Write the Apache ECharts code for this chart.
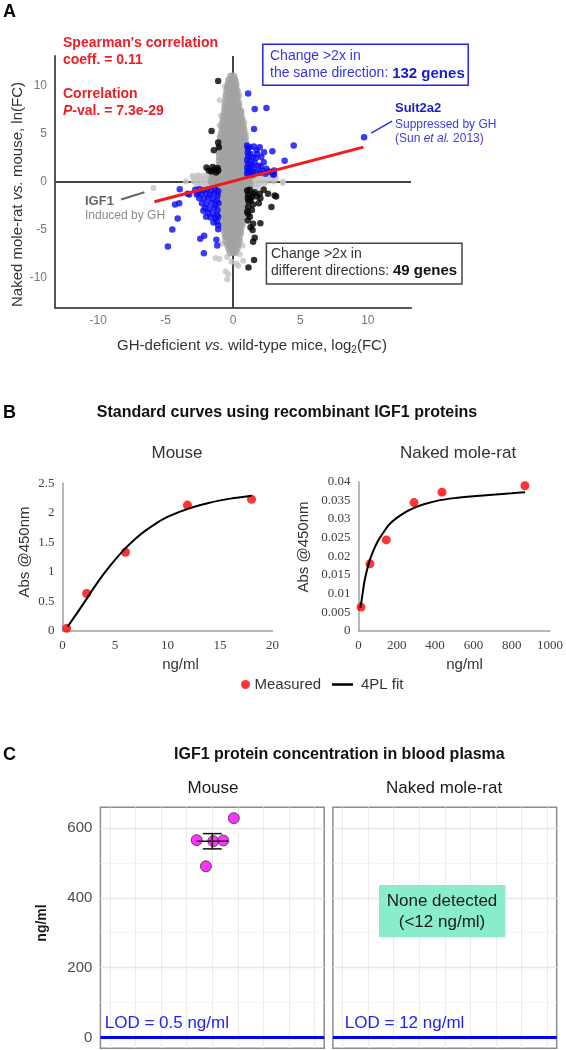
<!DOCTYPE html>
<html><head><meta charset="utf-8">
<script src="https://cdn.jsdelivr.net/npm/echarts@6/dist/echarts.min.js"></script>
<style>html,body{margin:0;padding:0;background:#fff}#c{width:566px;height:1050px}</style>
</head><body><div id="c"></div>
<script>
// ---------- Panel A data ----------
const aTicks = [-10, -5, 0, 5, 10];
const grayRows = [
  [11.0, [-0.15, 0.05]],
  [10.6, [-0.3, -0.1, 0.1]],
  [10.2, [-0.35, -0.15, 0.05, 0.2]],
  [9.8, [-0.4, -0.2, 0.0, 0.2]],
  [9.4, [-0.45, -0.25, -0.05, 0.15, 0.3]],
  [9.0, [-0.5, -0.3, -0.1, 0.1, 0.3]],
  [8.6, [-0.5, -0.3, -0.1, 0.1, 0.3]],
  [8.2, [-0.55, -0.35, -0.15, 0.05, 0.25, 0.4]],
  [7.8, [-0.6, -0.4, -0.2, 0.0, 0.2, 0.4]],
  [7.4, [-0.6, -0.4, -0.2, 0.0, 0.2, 0.4, 0.55]],
  [7.0, [-0.65, -0.45, -0.25, -0.05, 0.15, 0.35, 0.55]],
  [6.6, [-0.7, -0.5, -0.3, -0.1, 0.1, 0.3, 0.5, 0.65]],
  [6.2, [-0.75, -0.55, -0.35, -0.15, 0.05, 0.25, 0.45, 0.65]],
  [5.8, [-0.8, -0.6, -0.4, -0.2, 0.0, 0.2, 0.4, 0.6, 0.75]],
  [5.4, [-0.8, -0.6, -0.4, -0.2, 0.0, 0.2, 0.4, 0.6, 0.8]],
  [5.0, [-0.85, -0.65, -0.45, -0.25, -0.05, 0.15, 0.35, 0.55, 0.8]],
  [4.6, [-0.9, -0.7, -0.5, -0.3, -0.1, 0.1, 0.3, 0.5, 0.7, 0.9]],
  [4.2, [-0.9, -0.7, -0.5, -0.3, -0.1, 0.1, 0.3, 0.5, 0.7, 0.9]],
  [3.8, [-0.95, -0.75, -0.55, -0.35, -0.15, 0.05, 0.25, 0.45, 0.65, 0.85]],
  [3.4, [-0.95, -0.75, -0.55, -0.35, -0.15, 0.05, 0.25, 0.45, 0.65, 0.85, 1.0]],
  [3.0, [-1.0, -0.8, -0.6, -0.4, -0.2, 0.0, 0.2, 0.4, 0.6, 0.8, 0.95]],
  [2.6, [-1.0, -0.8, -0.6, -0.4, -0.2, 0.0, 0.2, 0.4, 0.6, 0.8, 1.0]],
  [2.2, [-1.0, -0.8, -0.6, -0.4, -0.2, 0.0, 0.2, 0.4, 0.6, 0.8, 1.0]],
  [1.8, [-1.0, -0.8, -0.6, -0.4, -0.2, 0.0, 0.2, 0.4, 0.6, 0.8, 1.0]],
  [1.4, [-1.0, -0.8, -0.6, -0.4, -0.2, 0.0, 0.2, 0.4, 0.6, 0.8, 1.0]],
  [1.0, [-1.0, -0.8, -0.6, -0.4, -0.2, 0.0, 0.2, 0.4, 0.6, 0.8, 1.0]],
  [0.65, [-1.5, -1.25, -1.0, -0.75, -0.5, -0.25, 0.0, 0.25, 0.5, 0.75, 1.0, 1.3]],
  [0.35, [-1.55, -1.3, -1.05, -0.8, -0.55, -0.3, -0.05, 0.2, 0.45, 0.7, 0.95, 1.2]],
  [0.05, [-1.6, -1.35, -1.1, -0.85, -0.6, -0.35, -0.1, 0.15, 0.4, 0.65, 0.9, 1.15]],
  [-0.25, [-1.5, -1.25, -1.0, -0.75, -0.5, -0.25, 0.0, 0.25, 0.5, 0.75, 1.0, 1.25]],
  [-0.55, [-1.4, -1.15, -0.9, -0.65, -0.4, -0.15, 0.1, 0.35, 0.6, 0.85, 1.1]],
  [-0.9, [-1.0, -0.8, -0.6, -0.4, -0.2, 0.0, 0.2, 0.4, 0.6, 0.8, 1.0]],
  [-1.3, [-1.0, -0.8, -0.6, -0.4, -0.2, 0.0, 0.2, 0.4, 0.6, 0.8, 1.0]],
  [-1.7, [-1.0, -0.8, -0.6, -0.4, -0.2, 0.0, 0.2, 0.4, 0.6, 0.8, 0.95]],
  [-2.1, [-0.95, -0.75, -0.55, -0.35, -0.15, 0.05, 0.25, 0.45, 0.65, 0.85]],
  [-2.5, [-0.95, -0.75, -0.55, -0.35, -0.15, 0.05, 0.25, 0.45, 0.65, 0.85]],
  [-2.9, [-0.9, -0.7, -0.5, -0.3, -0.1, 0.1, 0.3, 0.5, 0.7, 0.85]],
  [-3.3, [-0.85, -0.65, -0.45, -0.25, -0.05, 0.15, 0.35, 0.55, 0.75]],
  [-3.7, [-0.8, -0.6, -0.4, -0.2, 0.0, 0.2, 0.4, 0.6, 0.75]],
  [-4.1, [-0.75, -0.55, -0.35, -0.15, 0.05, 0.25, 0.45, 0.65]],
  [-4.5, [-0.7, -0.5, -0.3, -0.1, 0.1, 0.3, 0.5, 0.65]],
  [-4.9, [-0.65, -0.45, -0.25, -0.05, 0.15, 0.35, 0.55]],
  [-5.3, [-0.6, -0.4, -0.2, 0.0, 0.2, 0.4, 0.55]],
  [-5.7, [-0.55, -0.35, -0.15, 0.05, 0.25, 0.45]],
  [-6.1, [-0.5, -0.3, -0.1, 0.1, 0.3, 0.45]],
  [-6.5, [-0.4, -0.2, 0.0, 0.2, 0.35]],
  [-6.9, [-0.3, -0.1, 0.1, 0.3]],
  [-7.3, [-0.2, 0.0, 0.15]]
];
const grayLightRows = [
  [0.65, [-3.0, -2.6, -2.3, -2.0, -1.75, 1.6, 2.0, 2.5, 3.0]],
  [0.35, [-2.8, -2.4, -2.1, -1.8, 1.5, 1.8, 2.2, 2.7, 3.2]],
  [0.05, [-3.5, -2.9, -2.5, -2.2, -1.9, 1.45, 1.75, 2.1, 2.5, 3.0, 3.7]],
  [-0.25, [-2.7, -2.35, -2.05, -1.75, 1.55, 1.9, 2.3]],
  [-0.55, [-2.3, -1.95, -1.65, 1.4, 1.8]]
];
const grayOutliers = [[-0.98,8.5],[0.2,10.6],[0.5,9.0],[-0.6,9.9],[0.65,7.2],[-0.9,6.9],[-1.0,5.9],[0.85,6.2],[0.95,5.0],[-1.0,4.7],
  [-2.95,0.5],[-2.6,0.68],[2.97,0.5],[3.7,-0.1],[-1.0,-8.0],[-0.43,-7.8],[0.26,-7.1],[0.5,-7.5],[0.75,-8.2],[0.26,-8.5],
  [-0.36,-9.6],[-0.43,-10.1],[-0.55,-9.3],[0.38,-8.7],[-1.3,-7.9],[-0.1,-8.3],[0.7,-6.6],[-0.8,-6.4]];
const igf1Point = [[-5.9, -0.62]];
const bluePoints = [
  [1.12,9.2],[1.61,7.6],[2.48,7.7],[1.56,5.5],[4.5,3.8],[3.83,2.2],[2.92,3.2],[3.05,1.2],[3.05,0.8],[2.85,1.02],[2.97,0.78],[2.48,1.37],[9.72,4.64],
  [1.05,3.8],[1.1,3.5],[1.25,3.6],[1.55,3.7],[1.98,3.6],[1.74,3.3],[1.1,3.1],[1.3,2.9],[1.12,2.7],[1.45,2.6],[2.1,2.6],[1.7,2.5],[1.05,2.3],
  [1.3,2.2],[2.28,2.06],[1.6,2.0],[1.1,1.9],[1.4,1.8],[1.86,1.7],[2.05,1.6],[1.24,1.54],[1.05,1.45],[1.55,1.35],[2.2,1.2],[1.1,1.15],
  [1.35,1.1],[1.75,1.05],[2.0,0.95],[1.05,0.85],[1.49,0.78],[1.25,0.9],[2.4,0.85],[2.65,1.1],[1.8,2.9],[2.3,3.1],
  [-3.95,-0.75],[-3.36,-1.23],[-2.6,-1.1],[-4.3,-2.35],[-3.99,-2.2],[-4.1,-3.8],[-4.5,-4.95],[-4.83,-6.7],[-2.43,-5.9],[-2.14,-5.6],
  [-2.16,-7.4],[-1.23,-6.0],[-1.17,-6.6],[-1.1,-4.5],[-1.1,-4.9],[-2.2,-3.0],[-3.25,-1.3],
  [-2.8,-0.8],[-2.5,-0.75],[-2.2,-0.85],[-1.9,-0.8],[-1.6,-0.9],[-1.3,-0.8],[-1.1,-0.95],[-2.7,-1.3],[-2.35,-1.25],[-2.0,-1.2],
  [-1.7,-1.35],[-1.4,-1.2],[-1.15,-1.4],[-2.5,-1.7],[-2.15,-1.75],[-1.85,-1.65],[-1.5,-1.8],[-1.2,-1.9],[-2.3,-2.2],[-1.95,-2.3],
  [-1.6,-2.15],[-1.3,-2.4],[-1.08,-2.2],[-2.1,-2.7],[-1.75,-2.8],[-1.4,-2.7],[-1.15,-2.9],[-1.85,-3.2],[-1.5,-3.3],[-1.2,-3.4],
  [-1.65,-3.7],[-1.3,-3.8],[-1.1,-3.6],[-1.45,-4.2],[-1.2,-4.1],[-2.0,-3.6]
];
const blackPoints = [
  [-1.1,10.5],[-1.59,5.3],[-1.1,4.1],[-1.05,3.6],[-1.42,3.3],[-1.96,1.5],[-1.15,1.45],[-1.4,1.3],[-1.6,1.1],[-1.25,1.0],[-1.8,1.2],[-1.1,1.2],[-1.5,1.55],
  [1.05,-0.89],[1.24,-0.8],[1.12,-1.3],[1.37,-1.58],[1.61,-1.06],[1.98,-1.23],[2.28,-0.81],[2.6,-1.23],[3.09,-1.4],[3.2,-1.5],[2.85,-2.6],
  [1.91,-2.2],[1.49,-2.34],[1.12,-2.6],[1.05,-3.1],[1.12,-3.3],[1.49,-4.35],[2.03,-4.3],[1.61,-5.8],[1.49,-6.2],[1.56,-8.1],[1.15,-8.9],
  [1.3,-1.9],[1.15,-2.0],[1.4,-2.9],[1.25,-3.6],[1.1,-1.7],[1.5,-1.25],[1.75,-1.5],[2.03,-1.7],[1.3,-4.7],[1.45,-5.0],[1.1,-4.0]
];
const fitX = [-5.82, 9.67];
const fitY = [-2.06, 3.63];
const sultArrow = [[11.8, 6.33], [10.25, 5.08]];
const igfArrow = [[-8.3, -1.82], [-6.57, -1.06]];

// ---------- Panel B data ----------
const mouseConc = [0.4, 2.3, 6.0, 11.9, 18.0];
const mouseAbs = [0.04, 0.63, 1.33, 2.13, 2.23];
const mouseFitX = [0.5, 1, 2, 3, 4, 5, 6, 7, 8, 9, 10, 12, 14, 16, 18];
const mouseFitY = [0.07, 0.2, 0.46, 0.73, 0.98, 1.2, 1.4, 1.57, 1.71, 1.83, 1.93, 2.07, 2.17, 2.24, 2.29];
const nmrConc = [13, 60, 145, 290, 436, 869];
const nmrAbs = [0.0064, 0.018, 0.0244, 0.0344, 0.0372, 0.0389];
const nmrFitX = [10, 20, 30, 45, 60, 80, 100, 130, 160, 200, 250, 300, 350, 420, 500, 600, 700, 800, 870];
const nmrFitY = [0.0062, 0.0095, 0.013, 0.0165, 0.0192, 0.0218, 0.024, 0.0264, 0.0285, 0.0303, 0.032, 0.0332, 0.0341, 0.035, 0.0356, 0.0361, 0.0365, 0.0369, 0.0372];

// ---------- Panel C data ----------
const cMouseX = [4.84, 3.39, 4.04, 4.43, 3.75];
const cMouseY = [628, 565, 562, 564, 490];
const cMouseCenter = 4.0;
const cYTicks = [0, 200, 400, 600];
const cGridX = [0, 1, 2, 3, 4, 5, 6, 7, 8];
const cGridMajorY = [0, 200, 400, 600];
const cGridMinorY = [100, 300, 500];
const lodLineY = 0;
const lodLabels = ['LOD = 0.5 ng/ml', 'LOD = 12 ng/ml'];

// ---------- build ----------
const zip = (a, b) => a.map((v, i) => [v, b[i]]);
const grayData = [];
grayRows.forEach(([y, xs]) => xs.forEach(x => grayData.push([x, y])));
const grayLight = [];
grayLightRows.forEach(([y, xs]) => xs.forEach(x => grayLight.push([x, y])));
grayOutliers.forEach(p => grayLight.push(p));
igf1Point.forEach(p => grayLight.push(p));

const n = cMouseY.length;
const mean = cMouseY.reduce((a, b) => a + b, 0) / n;
const sd = Math.sqrt(cMouseY.reduce((a, b) => a + (b - mean) * (b - mean), 0) / (n - 1));
const se = sd / Math.sqrt(n);

const AR = 'Arial, "Liberation Sans", sans-serif';
const SERIF = '"Liberation Serif", "DejaVu Serif", serif';
function txt(x, y, text, font, fill, align, extra) {
  align = align || 'left';
  return Object.assign({ type: 'text', x: x, y: y, z: 100,
    style: { text: text, font: font, fill: fill, align: align, verticalAlign: 'middle', textAlign: align, textVerticalAlign: 'middle' } }, extra || {});
}
function rtxt(x, y, text, rich, align, extra) {
  align = align || 'left';
  return Object.assign({ type: 'text', x: x, y: y, z: 100,
    style: { text: text, rich: rich, align: align, verticalAlign: 'middle', textAlign: align, textVerticalAlign: 'middle' } }, extra || {});
}
function tok(size, color, weight, style, extra) {
  return Object.assign({ fontSize: size, fontFamily: AR, fontWeight: weight || 'normal', fontStyle: style || 'normal', fill: color, color: color,
    font: (style || 'normal') + ' ' + (weight || 'normal') + ' ' + size + 'px ' + AR }, extra || {});
}
const RED = '#ec1f26', BLUE = '#2424e8';

const graphic = [
  txt(3, 12, 'A', 'bold 18px ' + AR, '#000'),
  txt(63, 43, "Spearman's correlation", 'bold 14px ' + AR, RED),
  txt(63, 60, 'coeff. = 0.11', 'bold 14px ' + AR, RED),
  txt(63, 94, 'Correlation', 'bold 14px ' + AR, RED),
  rtxt(63, 111, '{i|P}{b|-val. = 7.3e-29}', { i: tok(14, RED, 'bold', 'italic'), b: tok(14, RED, 'bold') }),
  { type: 'rect', z: 100, shape: { x: 262.8, y: 44.3, width: 205.4, height: 41 }, style: { fill: 'none', stroke: BLUE, lineWidth: 1.5 } },
  txt(270, 56, 'Change >2x in', '14px ' + AR, '#3535ea'),
  rtxt(270, 73.5, '{r|the same direction: }{b|132 genes}', { r: tok(14, '#3535ea'), b: tok(15, '#1a1ad0', 'bold') }),
  { type: 'rect', z: 100, shape: { x: 266.4, y: 243.3, width: 195.6, height: 40.7 }, style: { fill: 'none', stroke: '#444', lineWidth: 1.5 } },
  txt(271, 254, 'Change >2x in', '14px ' + AR, '#333'),
  rtxt(271, 271, '{r|different directions: }{b|49 genes}', { r: tok(14, '#333'), b: tok(15, '#111', 'bold') }),
  txt(395, 108, 'Sult2a2', 'bold 13px ' + AR, '#1a1ad8'),
  txt(395, 125, 'Suppressed by GH', '12px ' + AR, '#3a3af0'),
  rtxt(395, 139, '{r|(Sun }{i|et al.}{r| 2013)}', { r: tok(12, '#3a3af0'), i: tok(12, '#3a3af0', 'normal', 'italic') }),
  txt(85, 201, 'IGF1', 'bold 13px ' + AR, '#666'),
  txt(85, 216, 'Induced by GH', '12px ' + AR, '#8a8a8a'),
  rtxt(18, 194.5, '{r|Naked mole-rat }{i|vs.}{r| mouse, ln(FC)}', { r: tok(15, '#333'), i: tok(15, '#333', 'normal', 'italic') }, 'center', { rotation: Math.PI / 2 }),
  rtxt(252, 346, '{r|GH-deficient }{i|vs.}{r| wild-type mice, log}{s|2}{r|(FC)}',
    { r: tok(15, '#333', 'normal', 'normal', { lineHeight: 18 }), i: tok(15, '#333', 'normal', 'italic', { lineHeight: 18 }), s: tok(10, '#333', 'normal', 'normal', { lineHeight: 18, verticalAlign: 'bottom' }) }, 'center'),
  // Panel B
  txt(3, 413, 'B', 'bold 18px ' + AR, '#000'),
  txt(287, 413, 'Standard curves using recombinant IGF1 proteins', 'bold 16px ' + AR, '#111', 'center'),
  txt(177, 453, 'Mouse', '17px ' + AR, '#333', 'center'),
  txt(458, 453, 'Naked mole-rat', '17px ' + AR, '#333', 'center'),
  txt(25, 552, 'Abs @450nm', '15px ' + AR, '#333', 'center', { rotation: Math.PI / 2 }),
  txt(304, 547, 'Abs @450nm', '15px ' + AR, '#333', 'center', { rotation: Math.PI / 2 }),
  txt(180.5, 665, 'ng/ml', '15px ' + AR, '#333', 'center'),
  txt(464.6, 665, 'ng/ml', '15px ' + AR, '#333', 'center'),
  // Panel C
  txt(3, 755, 'C', 'bold 18px ' + AR, '#000'),
  txt(339.4, 755, 'IGF1 protein concentration in blood plasma', 'bold 16px ' + AR, '#111', 'center'),
  txt(213, 788, 'Mouse', '17px ' + AR, '#1a1a1a', 'center'),
  txt(444, 788, 'Naked mole-rat', '17px ' + AR, '#1a1a1a', 'center'),
  txt(42.6, 923, 'ng/ml', 'bold 14px ' + AR, '#1a1a1a', 'center', { rotation: Math.PI / 2 }),
  txt(104.7, 1023, lodLabels[0], '17px ' + AR, '#2323f5'),
  txt(344.8, 1023, lodLabels[1], '17px ' + AR, '#2323f5'),
  { type: 'rect', z: 99, shape: { x: 379, y: 885, width: 126.4, height: 52.3 }, style: { fill: '#88edc8' } },
  txt(442, 901, 'None detected', '17px ' + AR, '#1a1a1a', 'center'),
  txt(442, 922, '(<12 ng/ml)', '17px ' + AR, '#1a1a1a', 'center')
];

const noLine = { show: false };
const bAxisLine = { show: true, onZero: false, lineStyle: { color: '#a0a0a0', width: 1.5 } };
const bLabel = { fontFamily: SERIF, fontSize: 13, color: '#404040', margin: 8, formatter: v => String(v) };

const option = {
  animation: false,
  backgroundColor: '#fff',
  textStyle: { fontFamily: AR },
  graphic: graphic,
  legend: [
    { data: [{ name: 'Measured', icon: 'circle' }], left: 236, top: 672, itemWidth: 10, itemHeight: 9, itemGap: 0,
      textStyle: { fontSize: 15, color: '#333', fontFamily: AR, padding: [0, 0, 0, -1] } },
    { data: [{ name: '4PL fit', icon: 'rect' }], left: 327, top: 672, itemWidth: 21, itemHeight: 2.5, itemGap: 0,
      textStyle: { fontSize: 15, color: '#333', fontFamily: AR, padding: [0, 0, 0, 3] } }
  ],
  grid: [
    { left: 55, top: 56, width: 356, height: 252 },
    { left: 62.5, top: 483.3, width: 210, height: 147.4 },
    { left: 358.5, top: 481.7, width: 192, height: 149.3 },
    { left: 100.4, top: 807.3, width: 223.8, height: 241, show: true, borderColor: '#8c8c8c', borderWidth: 1.5, backgroundColor: '#fff' },
    { left: 332.9, top: 807.3, width: 223.8, height: 241, show: true, borderColor: '#8c8c8c', borderWidth: 1.5, backgroundColor: '#fff' }
  ],
  xAxis: [
    { type: 'value', gridIndex: 0, min: -13.2, max: 13.2,
      axisLine: { show: true, onZero: false, lineStyle: { color: '#555', width: 2 } }, axisTick: noLine, splitLine: noLine,
      axisLabel: { customValues: aTicks, color: '#777', fontSize: 12, margin: 7, fontFamily: AR } },
    { type: 'value', gridIndex: 1, min: 0, max: 20, interval: 5, axisLine: bAxisLine, axisTick: noLine, splitLine: noLine, axisLabel: bLabel },
    { type: 'value', gridIndex: 2, min: 0, max: 1000, interval: 200, axisLine: bAxisLine, axisTick: noLine, splitLine: noLine, axisLabel: bLabel },
    { type: 'value', gridIndex: 3, min: -0.375, max: 8.375, show: false },
    { type: 'value', gridIndex: 4, min: -0.375, max: 8.375, show: false }
  ],
  yAxis: [
    { type: 'value', gridIndex: 0, min: -13.1, max: 13.1,
      axisLine: { show: true, onZero: false, lineStyle: { color: '#555', width: 2 } }, axisTick: noLine, splitLine: noLine,
      axisLabel: { customValues: aTicks, color: '#777', fontSize: 12, margin: 8, fontFamily: AR } },
    { type: 'value', gridIndex: 1, min: 0, max: 2.5, interval: 0.5, axisLine: bAxisLine, axisTick: noLine, splitLine: noLine, axisLabel: bLabel },
    { type: 'value', gridIndex: 2, min: 0, max: 0.04, interval: 0.005, axisLine: bAxisLine, axisTick: noLine, splitLine: noLine, axisLabel: bLabel },
    { type: 'value', gridIndex: 3, min: -31, max: 659, axisLine: noLine, splitLine: noLine,
      axisTick: { show: true, customValues: cYTicks, length: 4, lineStyle: { color: '#333', width: 1 } },
      axisLabel: { customValues: cYTicks, color: '#4d4d4d', fontSize: 15, margin: 8, fontFamily: AR } },
    { type: 'value', gridIndex: 4, min: -31, max: 659, axisLine: noLine, splitLine: noLine, axisTick: noLine, axisLabel: { show: false } }
  ],
  series: [
    { type: 'scatter', xAxisIndex: 0, yAxisIndex: 0, data: [], z: 1, silent: true,
      markLine: { silent: true, z: 1, symbol: ['none', 'none'], label: { show: false }, lineStyle: { color: '#444', width: 2, type: 'solid' },
        data: [{ yAxis: 0 }, { xAxis: 0 }] } },
    { type: 'scatter', xAxisIndex: 0, yAxisIndex: 0, data: grayLight, symbolSize: 6, z: 4, silent: true,
      itemStyle: { color: '#c4c4c4' } },
    { type: 'scatter', xAxisIndex: 0, yAxisIndex: 0, data: grayData, symbolSize: 7.5, z: 5, silent: true,
      itemStyle: { color: '#a2a2a2' } },
    { type: 'scatter', xAxisIndex: 0, yAxisIndex: 0, data: bluePoints, symbolSize: 6.5, z: 6, silent: true, itemStyle: { color: '#0a0af5' } },
    { type: 'scatter', xAxisIndex: 0, yAxisIndex: 0, data: blackPoints, symbolSize: 6.5, z: 6, silent: true, itemStyle: { color: '#000' } },
    { type: 'line', xAxisIndex: 0, yAxisIndex: 0, data: zip(fitX, fitY), symbol: 'none', z: 7, silent: true,
      lineStyle: { color: '#f21b1b', width: 3 } },
    { type: 'scatter', xAxisIndex: 0, yAxisIndex: 0, data: [], z: 8, silent: true,
      markLine: { silent: true, z: 8, symbol: ['none', 'arrow'], symbolSize: [0, 9], label: { show: false },
        data: [
          [{ coord: sultArrow[0], lineStyle: { color: '#2a2aee', width: 1.5, type: 'solid' } }, { coord: sultArrow[1] }],
          [{ coord: igfArrow[0], lineStyle: { color: '#666', width: 2, type: 'solid' } }, { coord: igfArrow[1] }]
        ] } },
    { name: 'Measured', type: 'scatter', xAxisIndex: 1, yAxisIndex: 1, data: zip(mouseConc, mouseAbs), symbolSize: 9, z: 5, itemStyle: { color: '#ff0000' } },
    { name: '4PL fit', type: 'line', xAxisIndex: 1, yAxisIndex: 1, data: zip(mouseFitX, mouseFitY), symbol: 'none', smooth: 0.3, z: 6,
      lineStyle: { color: '#000', width: 2 }, itemStyle: { color: '#000' } },
    { name: 'Measured', type: 'scatter', xAxisIndex: 2, yAxisIndex: 2, data: zip(nmrConc, nmrAbs), symbolSize: 9, z: 5, itemStyle: { color: '#ff0000' } },
    { name: '4PL fit', type: 'line', xAxisIndex: 2, yAxisIndex: 2, data: zip(nmrFitX, nmrFitY), symbol: 'none', smooth: 0.3, z: 6,
      lineStyle: { color: '#000', width: 2 }, itemStyle: { color: '#000' } },
    ...[3, 4].map(gi => ({ type: 'scatter', xAxisIndex: gi, yAxisIndex: gi, data: [], z: 1, silent: true,
      markLine: { silent: true, z: 1, symbol: ['none', 'none'], label: { show: false },
        data: [].concat(
          cGridX.map(v => ({ xAxis: v, lineStyle: { color: '#ebebeb', width: 1, type: 'solid' } })),
          cGridMinorY.map(v => ({ yAxis: v, lineStyle: { color: '#f2f2f2', width: 0.8, type: 'solid' } })),
          cGridMajorY.map(v => ({ yAxis: v, lineStyle: { color: '#e6e6e6', width: 1.3, type: 'solid' } }))
        ) } })),
    ...[3, 4].map(gi => ({ type: 'scatter', xAxisIndex: gi, yAxisIndex: gi, data: [], z: 3, silent: true,
      markLine: { silent: true, z: 3, symbol: ['none', 'none'], label: { show: false },
        data: [{ yAxis: lodLineY, lineStyle: { color: '#0000ff', width: 3, type: 'solid' } }] } })),
    { type: 'scatter', xAxisIndex: 3, yAxisIndex: 3, data: zip(cMouseX, cMouseY), symbolSize: 11, z: 5, silent: true,
      itemStyle: { color: '#ff00ff', borderColor: '#333', borderWidth: 1 } },
    { type: 'custom', xAxisIndex: 3, yAxisIndex: 3, z: 6, silent: true,
      data: [[cMouseCenter, mean - se, mean + se, mean]],
      renderItem: function (params, api) {
        const x = api.value(0), lo = api.value(1), hi = api.value(2), m = api.value(3);
        const pLo = api.coord([x, lo]), pHi = api.coord([x, hi]), pM = api.coord([x, m]);
        const cw = api.size([0.37, 0])[0], mw = api.size([0.62, 0])[0];
        const st = { stroke: '#111', lineWidth: 1.5, fill: null };
        return { type: 'group', children: [
          { type: 'line', shape: { x1: pLo[0], y1: pLo[1], x2: pHi[0], y2: pHi[1] }, style: st },
          { type: 'line', shape: { x1: pHi[0] - cw, y1: pHi[1], x2: pHi[0] + cw, y2: pHi[1] }, style: st },
          { type: 'line', shape: { x1: pLo[0] - cw, y1: pLo[1], x2: pLo[0] + cw, y2: pLo[1] }, style: st },
          { type: 'line', shape: { x1: pM[0] - mw, y1: pM[1], x2: pM[0] + mw, y2: pM[1] }, style: st }
        ] };
      } }
  ]
};
const chart = echarts.init(document.getElementById('c'), null, { renderer: 'canvas', width: 566, height: 1050 });
chart.setOption(option);
</script>
</body></html>
